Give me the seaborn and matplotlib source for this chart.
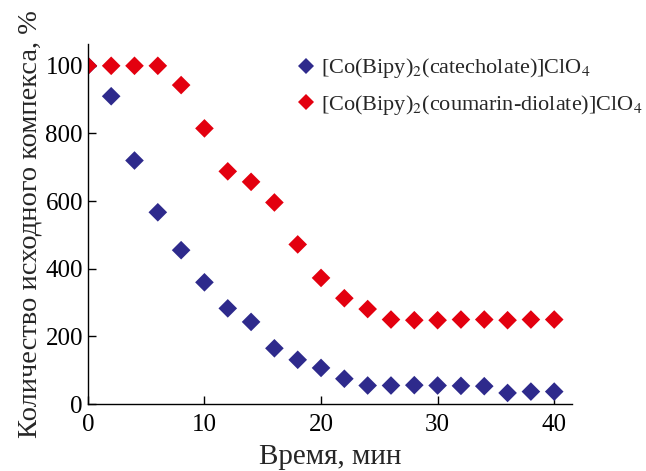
import pandas as pd
import matplotlib
matplotlib.use("Agg")
import matplotlib.pyplot as plt
import seaborn as sns

# time, min
time_blue = [0, 2, 4, 6, 8, 10, 12, 14, 16, 18, 20, 22, 24, 26, 28, 30, 32, 34, 36, 38, 40]
catecholate = [1000, 910, 720, 567, 455, 360, 283, 243, 165, 131, 107, 75, 55, 55, 56, 55, 54, 53, 33, 37, 37]

time_red = [0, 2, 4, 6, 8, 10, 12, 14, 16, 18, 20, 22, 24, 26, 28, 30, 32, 34, 36, 38, 40]
coumarin = [1000, 1000, 1000, 1000, 943, 815, 688, 657, 596, 472, 373, 313, 281, 250, 248, 248, 250, 250, 248, 250, 250]

y_ticks = [0, 200, 400, 600, 800, 1000]
y_tick_labels = ["0", "200", "400", "600", "800", "100"]
x_ticks = [0, 10, 20, 30, 40]

lab_blue = r"[Co(Bipy)$_2$(catecholate)]ClO$_4$"
lab_red = r"[Co(Bipy)$_2$(coumarin-diolate)]ClO$_4$"

df = pd.concat([
    pd.DataFrame({"t": time_blue, "val": catecholate, "complex": lab_blue}),
    pd.DataFrame({"t": time_red, "val": coumarin, "complex": lab_red}),
])

sns.set_style("ticks")
plt.rcParams["font.family"] = ["Liberation Serif", "DejaVu Serif"]
plt.rcParams["mathtext.fontset"] = "stix"

fig = plt.figure(figsize=(6.46, 4.71), dpi=100)
ax = fig.add_axes([0.136, 0.142, 0.749, 0.765])

sns.scatterplot(data=df, x="t", y="val", hue="complex",
                palette={lab_blue: "#2e2a8c", lab_red: "#e3000f"},
                marker="D", s=90, linewidth=0, ax=ax)

ax.set_xlim(0, 41.5)
ax.set_ylim(0, 1065)
ax.set_xticks(x_ticks)
ax.set_yticks(y_ticks)
ax.set_yticklabels(y_tick_labels)
ax.tick_params(direction="in", length=6, width=1, labelsize=18, colors="black")
ax.tick_params(axis="x", pad=7)
for s in ["left", "bottom"]:
    ax.spines[s].set_linewidth(1)
    ax.spines[s].set_color("black")
sns.despine(ax=ax)

ax.set_xlabel("Время, мин", fontsize=21, labelpad=6)
ax.set_ylabel("Количество исходного компекса, %", fontsize=20.5, labelpad=2)

leg = ax.legend(loc="upper left", bbox_to_anchor=(0.41, 0.99), frameon=False,
                fontsize=16, handlelength=1.0, handletextpad=0.15,
                markerscale=0.85, labelspacing=0.55, borderaxespad=0)

fig.savefig("out.png", dpi=100)
